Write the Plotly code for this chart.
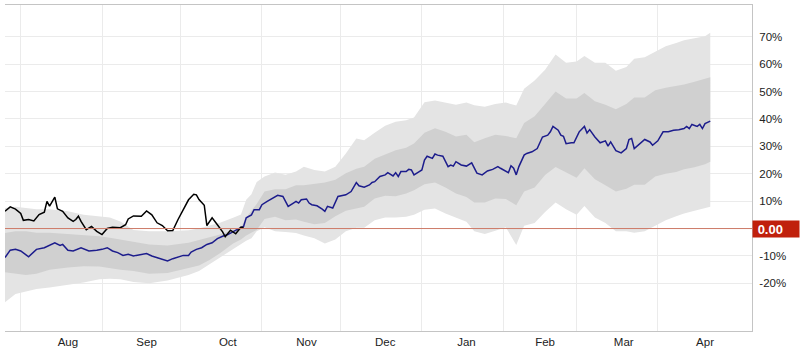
import pandas as pd
import plotly.graph_objects as go

START = pd.Timestamp("2013-07-26")

# ---- historical series (black) : days since START, % change
black_day = [0, 2, 4, 6, 7, 9, 11, 13, 15, 16, 17, 19, 20, 22, 24, 26, 27, 28, 29, 31, 33, 35, 37, 39, 41,
             44, 46, 47, 49, 52, 54, 56, 58, 60, 62, 64, 66, 68, 70, 72, 73, 74, 76, 77, 79, 81, 83, 84,
             86, 88, 90, 91]
black_val = [6.3, 7.9, 7.1, 5.5, 3.0, 3.3, 2.8, 5.1, 6.0, 9.9, 8.2, 11.5, 7.2, 6.3, 3.9, 2.6, 3.3, 4.5, 2.6,
             -0.4, 0.8, -1.0, -2.2, 0.0, 0.5, 0.3, 1.4, 3.5, 4.6, 4.5, 6.4, 5.0, 2.1, 1.1, -0.8, -0.7, 3.3,
             7.2, 10.5, 12.5, 12.3, 10.6, 8.5, 1.1, 3.9, 1.4, -1.2, -3.0, -0.6, -1.9, 0.5, 0.3]

# ---- median projection (blue)
blue_day = [0, 2, 4, 6, 9, 10, 12, 15, 17, 19, 21, 22, 24, 26, 29, 31, 32, 35, 37, 39, 41, 43, 45, 47, 49,
            50, 52, 54, 56, 58, 60, 62, 64, 66, 68, 70, 71, 73, 75, 77, 79, 81, 83, 85, 87, 89, 91, 92, 94,
            95, 97, 98, 100, 102, 104, 106, 108, 110, 111, 112, 113, 115, 116, 117, 119, 121, 122, 123, 125,
            127, 129, 130, 132, 134, 135, 137, 139, 140, 141, 143, 145, 146, 148, 149, 150, 151, 153, 154,
            155, 156, 158, 159, 160, 161, 163, 164, 165, 167, 169, 170, 171, 172, 174, 176, 178, 180, 182,
            184, 186, 188, 189, 190, 192, 193, 194, 195, 196, 198, 199, 201, 203, 205, 207, 208, 209, 211,
            212, 213, 214, 216, 217, 219, 221, 222, 223, 225, 227, 229, 230, 231, 233, 235, 237, 238, 239,
            240, 242, 244, 246, 247, 249, 251, 253, 255, 257, 259, 260, 261, 262, 264, 265, 266, 267, 269]
blue_val = [-10.6, -7.9, -7.6, -8.2, -10.3, -9.4, -7.6, -7.0, -6.2, -5.2, -6.2, -5.8, -7.9, -8.2, -7.0, -7.9,
            -8.2, -7.9, -7.6, -7.0, -8.2, -8.8, -9.8, -9.4, -10.0, -9.8, -9.4, -9.1, -10.0, -10.6, -11.0,
            -11.8, -11.0, -10.3, -9.8, -9.8, -8.6, -7.6, -7.0, -5.8, -5.2, -3.7, -2.8, -2.2, -1.0, -0.1, 0.8,
            3.9, 5.0, 6.9, 6.9, 8.7, 9.9, 11.1, 12.1, 11.7, 8.1, 9.3, 9.9, 9.3, 10.5, 10.8, 9.3, 8.7, 8.3,
            7.1, 6.3, 8.1, 7.5, 11.7, 12.0, 12.3, 13.5, 16.8, 15.6, 15.1, 15.9, 16.8, 17.1, 19.0, 19.6, 20.4,
            19.2, 20.4, 19.0, 20.8, 20.8, 21.6, 21.4, 19.6, 20.8, 21.4, 25.0, 26.4, 25.6, 27.2, 26.8, 26.4,
            22.6, 23.2, 22.8, 24.4, 23.2, 22.8, 24.0, 20.2, 19.6, 21.0, 21.6, 22.6, 22.0, 21.4, 20.4, 22.9,
            22.0, 19.6, 22.6, 26.8, 27.4, 28.0, 29.2, 33.4, 34.1, 35.3, 37.3, 35.9, 34.1, 33.7, 31.0, 31.3,
            31.3, 35.3, 37.3, 34.9, 36.1, 33.4, 31.3, 32.0, 30.1, 31.6, 28.4, 27.6, 29.2, 32.5, 32.9, 29.2,
            31.0, 32.5, 31.6, 30.4, 32.0, 35.3, 35.3, 35.9, 36.1, 36.5, 37.3, 36.5, 38.0, 37.3, 38.0, 36.5,
            38.3, 39.2]

# ---- percentile bands
band_day = [0, 4, 8, 12, 17, 24, 30, 36, 40, 44, 49, 55, 62, 70, 74, 78, 82, 87, 90, 92, 94, 96, 99, 103,
            107, 111, 114, 118, 122, 126, 130, 134, 137, 141, 145, 149, 153, 156, 160, 164, 168, 172, 176,
            179, 183, 187, 191, 195, 198, 202, 206, 210, 214, 218, 221, 225, 229, 233, 237, 240, 244, 248,
            252, 256, 259, 263, 267, 269]
outer_hi = [7.5, 8.0, 7.5, 7.0, 7.0, 6.3, 5.0, 4.5, 4.0, 2.6, -0.5, -1.0, -1.0, -0.6, 0.0, 1.1, 2.1, 3.9,
            5.1, 10.5, 12.5, 17.0, 19.0, 20.5, 19.6, 20.8, 22.6, 21.4, 20.8, 22.6, 27.4, 32.9, 32.2, 35.0,
            37.5, 39.0, 39.5, 40.5, 46.1, 46.7, 46.0, 45.2, 46.0, 45.0, 44.5, 45.5, 46.0, 44.9, 51.0, 54.0,
            58.0, 63.5, 60.5, 61.0, 63.0, 60.5, 60.5, 57.6, 59.0, 62.0, 62.5, 64.5, 66.5, 67.7, 68.7, 69.5,
            70.2, 71.5]
inner_hi = [-1.6, -1.0, -1.0, -1.5, -1.5, -2.0, -2.2, -2.8, -3.4, -4.0, -5.0, -5.8, -6.2, -5.2, -4.2, -3.2,
            -2.2, -0.5, 0.5, 4.0, 6.5, 9.0, 13.5, 14.3, 14.3, 15.8, 15.8, 16.2, 16.8, 17.8, 20.2, 21.8, 22.6,
            25.5, 27.0, 28.6, 29.5, 31.0, 35.0, 36.6, 35.3, 33.6, 34.2, 31.5, 33.0, 34.2, 33.8, 33.0, 38.5,
            41.0, 45.5, 50.0, 47.5, 47.5, 49.5, 46.5, 45.2, 43.5, 45.5, 47.8, 47.8, 50.5, 51.4, 52.0, 52.6,
            53.6, 54.5, 55.2]
inner_lo = [-16.0, -16.5, -17.0, -16.5, -15.0, -14.2, -13.8, -13.9, -14.5, -15.0, -15.5, -16.5, -16.2, -14.5,
            -13.5, -11.5, -9.0, -5.5, -4.0, -2.5, -1.5, -0.5, 3.5, 4.3, 3.0, 3.3, 2.5, 1.6, 2.0, 4.5, 6.5,
            7.3, 8.0, 11.0, 12.0, 11.8, 12.8, 14.0, 16.2, 16.8, 15.0, 12.8, 11.5, 9.5, 9.5, 11.0, 10.8, 8.5,
            13.5, 15.0, 19.5, 22.5, 20.5, 18.5, 22.0, 18.0, 15.8, 13.5, 14.5, 16.0, 16.0, 19.0, 20.0, 20.6,
            21.6, 22.4, 23.5, 24.4]
outer_lo = [-26.9, -23.9, -23.0, -22.1, -21.5, -20.5, -19.7, -18.5, -18.3, -18.5, -19.5, -20.0, -19.0, -17.0,
            -15.5, -13.0, -10.5, -7.5, -5.5, -4.5, -3.5, -1.0, 0.5, -1.0, -1.3, -1.6, -2.5, -3.5, -5.5, -4.0,
            -1.0, 0.3, 0.3, 3.0, 4.0, 4.0, 4.3, 5.0, 6.9, 7.3, 5.5, 4.0, 2.5, -1.0, -2.0, -0.8, 0.5, -6.0,
            1.0, 2.0, 6.0, 9.5, 7.0, 5.0, 8.2, 4.0, 2.0, -1.0, -1.0, -1.5, -1.0, 1.0, 3.0, 4.5, 5.5, 6.5,
            7.5, 8.0]

# ---- axis labels
month_starts = ["2013-08-01", "2013-09-01", "2013-10-01", "2013-11-01", "2013-12-01",
                "2014-01-01", "2014-02-01", "2014-03-01", "2014-04-01"]
month_label_pos = ["2013-08-19", "2013-09-18", "2013-10-19", "2013-11-18", "2013-12-18",
                   "2014-01-18", "2014-02-17", "2014-03-19", "2014-04-19"]
month_names = ["Aug", "Sep", "Oct", "Nov", "Dec", "Jan", "Feb", "Mar", "Apr"]
y_ticks = [-20, -10, 10, 20, 30, 40, 50, 60, 70]
y_labels = ["-20%", "-10%", "10%", "20%", "30%", "40%", "50%", "60%", "70%"]
last_value_label = "0.00"


def to_dates(days):
    return START + pd.to_timedelta(days, unit="D")


band_x = to_dates(band_day)
LIGHT = "#e4e4e4"
DARK = "#d0d0d0"

fig = go.Figure()
fig.add_trace(go.Scatter(x=band_x, y=outer_lo, mode="lines", line=dict(width=0, color=LIGHT),
                         hoverinfo="skip", showlegend=False))
fig.add_trace(go.Scatter(x=band_x, y=outer_hi, mode="lines", line=dict(width=0, color=LIGHT),
                         fill="tonexty", fillcolor=LIGHT, hoverinfo="skip", showlegend=False))
fig.add_trace(go.Scatter(x=band_x, y=inner_lo, mode="lines", line=dict(width=0, color=DARK),
                         hoverinfo="skip", showlegend=False))
fig.add_trace(go.Scatter(x=band_x, y=inner_hi, mode="lines", line=dict(width=0, color=DARK),
                         fill="tonexty", fillcolor=DARK, hoverinfo="skip", showlegend=False))
fig.add_trace(go.Scatter(x=to_dates(blue_day), y=blue_val, mode="lines",
                         line=dict(width=1.5, color="#1c1c8c"), showlegend=False))
fig.add_trace(go.Scatter(x=to_dates(black_day), y=black_val, mode="lines",
                         line=dict(width=1.5, color="#000000"), showlegend=False))

fig.add_hline(y=0, line=dict(color="#cd7a68", width=1), layer="above")

fig.add_annotation(x=1, xref="paper", xanchor="left", y=0, yref="y", yanchor="middle",
                   text="\u00a0<b>" + last_value_label + "</b>", showarrow=False, align="left",
                   bgcolor="#c0200c", width=44, height=14, borderpad=1,
                   font=dict(color="white", size=13, family="Arial, Liberation Sans, sans-serif"))

FONT = dict(family="Arial, Liberation Sans, sans-serif", size=11.5, color="#222222")
GRID = "#ebebeb"
AXIS = "#c4c4c4"

fig.update_layout(
    width=802, height=352,
    margin=dict(l=5, r=50, t=4, b=20),
    paper_bgcolor="white", plot_bgcolor="white",
    font=FONT, showlegend=False,
    xaxis=dict(type="date", range=["2013-07-26", "2014-05-06 22:00"],
               tickmode="array", tickvals=month_label_pos, ticktext=month_names,
               showgrid=False, ticks="", zeroline=False,
               minor=dict(tickmode="array", tickvals=month_starts, showgrid=True, gridcolor=GRID,
                          gridwidth=1, ticks=""),
               showline=True, mirror=True, linecolor=AXIS, linewidth=1, tickfont=FONT),
    yaxis=dict(side="right", range=[-37.4, 81.6], tickmode="array", tickvals=y_ticks,
               ticktext=y_labels, showgrid=True, gridcolor=GRID, gridwidth=1, zeroline=False,
               ticks="", showline=True, linecolor=AXIS, linewidth=1, tickfont=FONT,
               ticklabelstandoff=4),
)

fig.write_html("out.html")
